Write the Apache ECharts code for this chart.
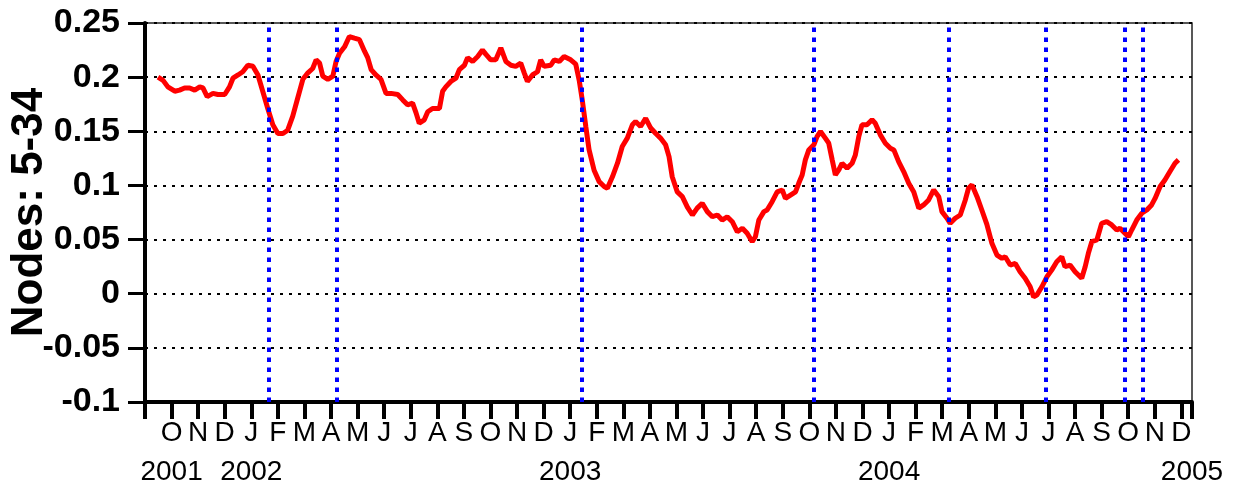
<!DOCTYPE html>
<html>
<head>
<meta charset="utf-8">
<script src="https://cdn.jsdelivr.net/npm/echarts@6/dist/echarts.min.js"></script>
<style>
  html, body { margin: 0; padding: 0; background: #fff; }
  #chart { width: 1237px; height: 486px; }
</style>
</head>
<body>
<div id="chart"></div>
<script>
// x is in months, 0 = first tick (Sep 2001), one tick per month
const monthLetters = ['J', 'F', 'M', 'A', 'M', 'J', 'J', 'A', 'S', 'O', 'N', 'D'];
const firstMonth = 8; // September
const yearTicks = [1, 4, 16, 28];
const yearNames = ['2001', '2002', '2003', '2004'];
const endYear = '2005';
const xMax = 39.4;

// blue dotted event lines (month position)
const eventPos = [4.67, 7.23, 16.44, 25.17, 30.23, 33.91, 36.88, 37.54];

const monthPos = [
    0.49, 0.68, 0.86, 1.12, 1.30, 1.49, 1.68, 1.87, 2.06, 2.18, 2.34, 2.56, 2.74, 3.00, 3.18, 3.31,
    3.50, 3.68, 3.87, 4.06, 4.25, 4.43, 4.62, 4.81, 5.00, 5.19, 5.37, 5.56, 5.75, 5.94, 6.13, 6.31,
    6.44, 6.57, 6.69, 6.88, 7.07, 7.19, 7.32, 7.51, 7.69, 7.88, 8.07, 8.26, 8.38, 8.51, 8.69, 8.88,
    9.07, 9.26, 9.51, 9.70, 9.88, 10.07, 10.20, 10.32, 10.51, 10.64, 10.82, 11.08, 11.20, 11.32,
    11.51, 11.70, 11.83, 12.02, 12.14, 12.33, 12.52, 12.70, 12.83, 13.01, 13.20, 13.39, 13.58,
    13.77, 13.95, 14.14, 14.27, 14.39, 14.58, 14.77, 14.89, 15.02, 15.27, 15.40, 15.59, 15.77,
    16.02, 16.21, 16.34, 16.46, 16.59, 16.71, 16.90, 17.09, 17.28, 17.40, 17.59, 17.78, 17.96,
    18.15, 18.34, 18.46, 18.65, 18.84, 19.03, 19.22, 19.40, 19.59, 19.72, 19.84, 20.03, 20.22,
    20.41, 20.60, 20.78, 20.97, 21.16, 21.35, 21.54, 21.72, 21.91, 22.10, 22.29, 22.48, 22.66,
    22.85, 22.97, 23.10, 23.29, 23.41, 23.60, 23.79, 23.98, 24.10, 24.29, 24.48, 24.60, 24.73,
    24.85, 24.98, 25.17, 25.29, 25.42, 25.60, 25.73, 25.86, 25.98, 26.11, 26.23, 26.42, 26.61,
    26.73, 26.86, 26.98, 27.17, 27.36, 27.48, 27.67, 27.86, 28.05, 28.18, 28.36, 28.55, 28.74,
    28.93, 29.12, 29.30, 29.49, 29.68, 29.87, 29.99, 30.18, 30.30, 30.49, 30.68, 30.87, 30.99,
    31.12, 31.31, 31.49, 31.68, 31.87, 32.06, 32.25, 32.37, 32.56, 32.75, 32.93, 33.12, 33.31,
    33.44, 33.56, 33.75, 33.94, 34.12, 34.31, 34.50, 34.62, 34.81, 35.00, 35.25, 35.38, 35.50,
    35.63, 35.82, 36.00, 36.19, 36.38, 36.57, 36.69, 36.82, 37.01, 37.13, 37.32, 37.51, 37.70,
    37.88, 38.01, 38.20, 38.38, 38.57, 38.76, 38.89
];

const nodeVals = [
    0.200, 0.197, 0.191, 0.187, 0.188, 0.190, 0.190, 0.188, 0.191, 0.190, 0.182, 0.185, 0.184, 0.184, 0.191, 0.199,
    0.202, 0.205, 0.211, 0.210, 0.202, 0.187, 0.171, 0.156, 0.148, 0.148, 0.151, 0.164, 0.181, 0.198, 0.204, 0.208,
    0.216, 0.213, 0.201, 0.198, 0.201, 0.2145, 0.222, 0.228, 0.2375, 0.236, 0.2346, 0.224, 0.218, 0.207, 0.202, 0.198,
    0.185, 0.185, 0.184, 0.179, 0.1745, 0.176, 0.167, 0.1575, 0.1606, 0.168, 0.171, 0.171, 0.187, 0.191,
    0.196, 0.199, 0.207, 0.211, 0.218, 0.2145, 0.219, 0.225, 0.221, 0.216, 0.216, 0.227, 0.2145,
    0.211, 0.210, 0.213, 0.204, 0.196, 0.202, 0.205, 0.216, 0.210, 0.211, 0.216, 0.2145, 0.219,
    0.216, 0.212, 0.197, 0.178, 0.154, 0.133, 0.114, 0.1035, 0.099, 0.0974, 0.108, 0.1205, 0.136,
    0.1437, 0.156, 0.159, 0.1544, 0.162, 0.153, 0.148, 0.1437, 0.1375, 0.1266, 0.108, 0.094, 0.0896,
    0.080, 0.0727, 0.079, 0.0835, 0.0758, 0.0711, 0.0727, 0.068, 0.0711, 0.0665, 0.0572, 0.0604, 0.0558,
    0.048, 0.0526, 0.068, 0.0758, 0.0773, 0.085, 0.094, 0.0958, 0.088, 0.091, 0.094, 0.102, 0.1097,
    0.1236, 0.1328, 0.1375, 0.145, 0.1498, 0.1437, 0.139, 0.1236, 0.1097, 0.1143, 0.1205, 0.116, 0.1205,
    0.128, 0.145, 0.156, 0.156, 0.1606, 0.1575, 0.1467, 0.139, 0.1344, 0.1328, 0.122, 0.1128, 0.102,
    0.094, 0.079, 0.082, 0.0866, 0.0958, 0.0896, 0.0758, 0.0697, 0.065, 0.0697, 0.0727, 0.0866, 0.0974,
    0.1005, 0.0896, 0.0773, 0.064, 0.0465, 0.0357, 0.0327, 0.0341, 0.0265, 0.028, 0.0203, 0.0142, 0.0064,
    -0.0029, -0.0013, 0.0064, 0.0156, 0.0218, 0.0295, 0.0341, 0.0249, 0.0265, 0.0203, 0.0142, 0.0249, 0.0373,
    0.048, 0.0496, 0.065, 0.0665, 0.0635, 0.0588, 0.0604, 0.0573, 0.0526, 0.0588, 0.068, 0.0743, 0.0773,
    0.082, 0.088, 0.099, 0.105, 0.1128, 0.1205, 0.1236
];

const fontFam = '"Liberation Sans", Arial, sans-serif';

function monthLabel(value) {
    const i = Math.round(value);
    if (i === 0 || Math.abs(value - i) > 1e-6) return '';
    return monthLetters[(firstMonth + i) % 12];
}

function yearLabel(value) {
    if (Math.abs(value - xMax) < 1e-6) return endYear;
    const k = yearTicks.indexOf(Math.round(value));
    return k >= 0 ? yearNames[k] : '';
}

const chart = echarts.init(document.getElementById('chart'));
chart.setOption({
    animation: false,
    backgroundColor: '#fff',
    grid: {
        left: 145, right: 45, top: 23, bottom: 84,
        show: true, borderColor: '#222', borderWidth: 1.5,
        outerBoundsMode: 'none'
    },
    xAxis: [{
        type: 'value',
        min: 0,
        max: xMax,
        interval: 1,
        axisLine: { onZero: false, lineStyle: { color: '#000', width: 4 } },
        axisTick: { length: 17, lineStyle: { color: '#000', width: 4 } },
        axisLabel: {
            formatter: monthLabel,
            hideOverlap: false,
            color: '#000',
            fontFamily: fontFam,
            fontSize: 28,
            lineHeight: 40,
            margin: 11
        },
        splitLine: { show: false }
    }, {
        // year row under the month letters
        type: 'value',
        position: 'bottom',
        min: 0,
        max: xMax,
        interval: 1,
        axisLine: { show: false, onZero: false },
        axisTick: { show: false },
        axisLabel: {
            formatter: yearLabel,
            showMaxLabel: true,
            showMinLabel: true,
            hideOverlap: false,
            color: '#000',
            fontFamily: fontFam,
            fontSize: 28,
            lineHeight: 28,
            margin: 56
        },
        splitLine: { show: false }
    }],
    yAxis: {
        type: 'value',
        min: -0.1,
        max: 0.25,
        interval: 0.05,
        name: 'Nodes: 5-34',
        nameLocation: 'middle',
        nameGap: 93,
        nameMoveOverlap: false,
        nameTextStyle: { color: '#000', fontFamily: fontFam, fontWeight: 'bold', fontSize: 44 },
        axisLine: { lineStyle: { color: '#000', width: 4 } },
        axisTick: { length: 17, lineStyle: { color: '#000', width: 3 } },
        axisLabel: {
            color: '#000',
            fontFamily: fontFam,
            fontWeight: 'bold',
            fontSize: 34,
            margin: 25
        },
        splitLine: { show: true, lineStyle: { color: '#000', width: 2, type: [3, 6] } }
    },
    series: [{
        type: 'line',
        data: monthPos.map((m, i) => [m, nodeVals[i]]),
        showSymbol: false,
        symbol: 'none',
        lineStyle: { color: '#ff0000', width: 5 },
        z: 2,
        markLine: {
            silent: true,
            symbol: ['none', 'none'],
            label: { show: false },
            lineStyle: { color: '#0000ff', width: 4, type: [4.5, 5.5] },
            data: eventPos.map(x => ({ xAxis: x }))
        }
    }]
});
</script>
</body>
</html>
